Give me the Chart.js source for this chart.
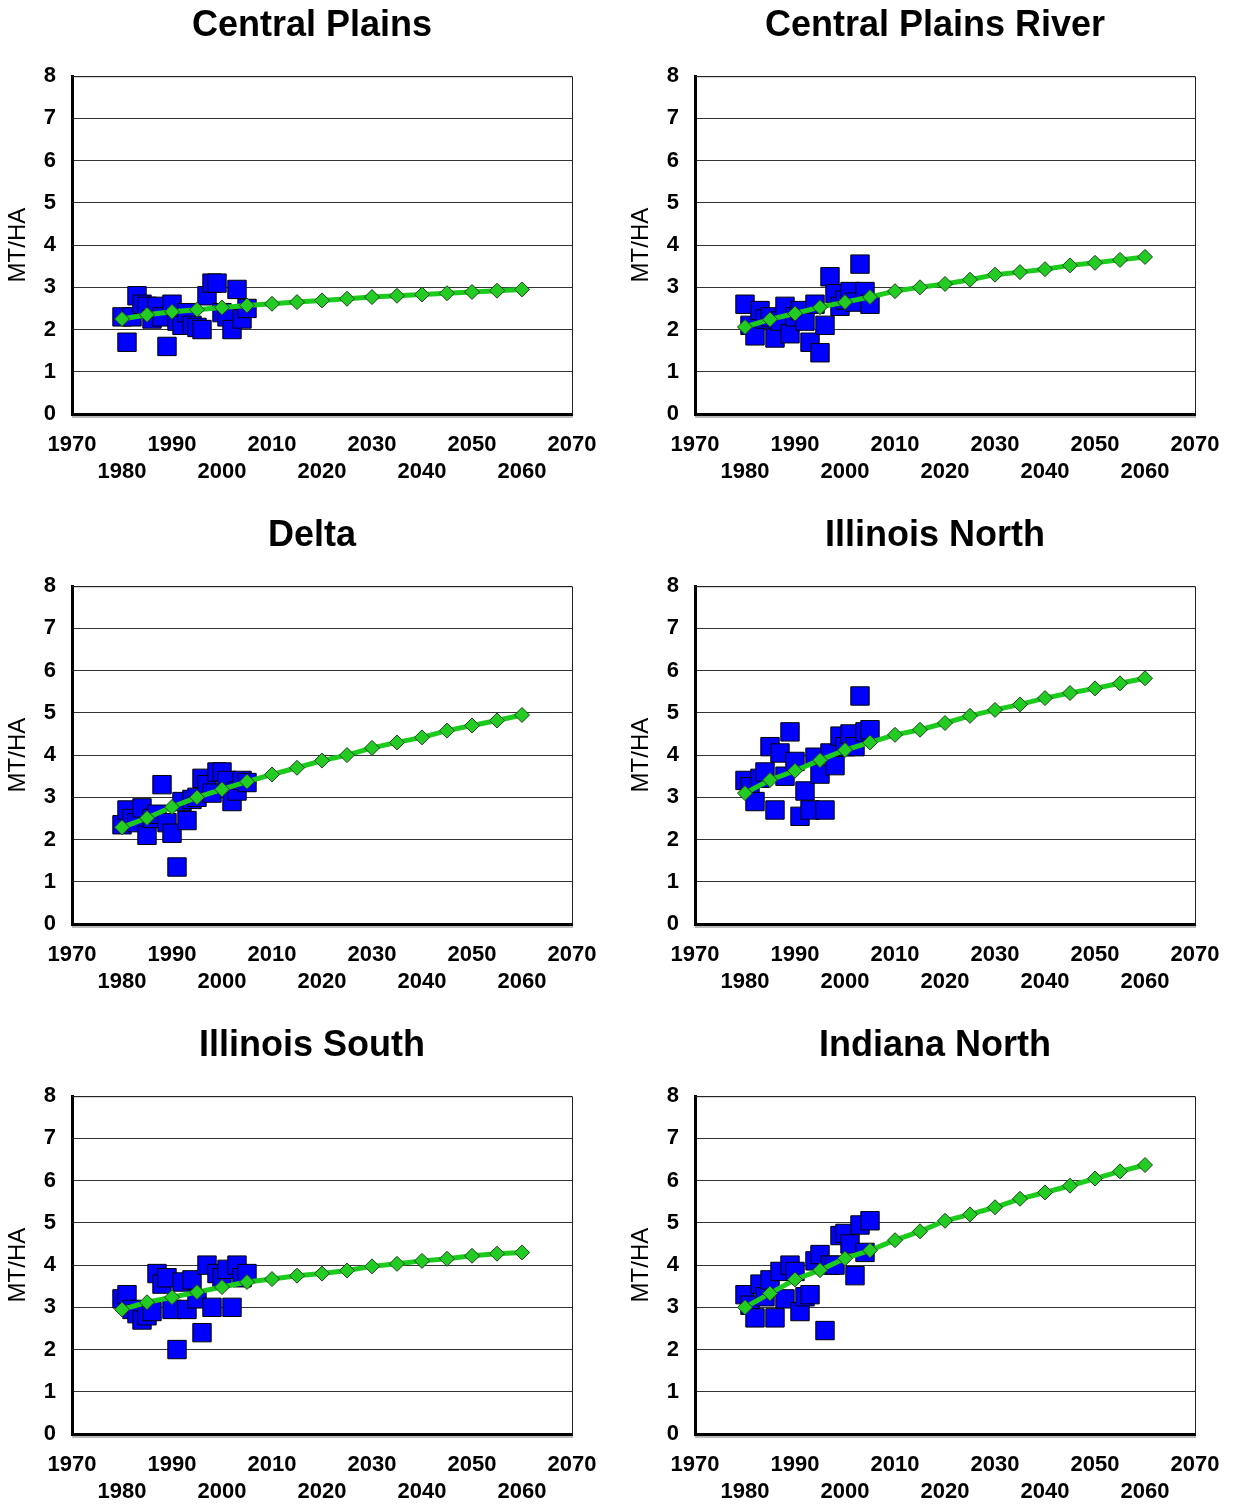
<!DOCTYPE html>
<html>
<head>
<meta charset="utf-8">
<script src="https://cdn.jsdelivr.net/npm/chart.js@4.4.0/dist/chart.umd.min.js"></script>
<style>
  body { margin: 0; background: #fff; overflow: hidden; width: 1234px; height: 1506px; position: relative; }
  .panel { position: absolute; width: 624px; height: 510px; }
</style>
</head>
<body>
<div class="panel" style="left:0;top:0"><canvas id="c0"></canvas></div>
<div class="panel" style="left:623px;top:0"><canvas id="c1"></canvas></div>
<div class="panel" style="left:0;top:510px"><canvas id="c2"></canvas></div>
<div class="panel" style="left:623px;top:510px"><canvas id="c3"></canvas></div>
<div class="panel" style="left:0;top:1020px"><canvas id="c4"></canvas></div>
<div class="panel" style="left:623px;top:1020px"><canvas id="c5"></canvas></div>
<script>
// years of observed yields and of the trend projection
const obsYears = [1980, 1981, 1982, 1983, 1984, 1985, 1986, 1987, 1988, 1989, 1990, 1991, 1992,
  1993, 1994, 1995, 1996, 1997, 1998, 1999, 2000, 2001, 2002, 2003, 2004, 2005];
const trendYears = [1980, 1985, 1990, 1995, 2000, 2005, 2010, 2015, 2020, 2025, 2030,
  2035, 2040, 2045, 2050, 2055, 2060];

const regions = ["Central Plains", "Central Plains River", "Delta", "Illinois North", "Illinois South", "Indiana North"];

// MT/HA, observed
const cpObs = [2.3, 1.7, 2.3, 2.8, 2.6, 2.55, 2.25, 2.55, 2.3, 1.6, 2.6, 2.2, 2.1, 2.4, 2.1, 2.05, 2.0,
  2.8, 3.1, 3.1, 2.4, 2.3, 2.0, 2.95, 2.25, 2.5];
const cprObs = [2.6, 2.1, 1.85, 2.45, 2.25, 2.3, 1.8, 2.2, 2.55, 1.9, 2.3, 2.45, 2.2, 1.7, 2.6, 1.45,
  2.1, 3.25, 2.85, 2.55, 2.7, 2.9, 2.65, 3.55, 2.9, 2.6];
const deltaObs = [2.35, 2.7, 2.5, 2.4, 2.75, 2.1, 2.5, 2.6, 3.3, 2.4, 2.15, 1.35, 2.9, 2.45, 2.95, 3.0,
  3.45, 3.3, 3.1, 3.6, 3.6, 3.4, 2.9, 3.15, 3.4, 3.35];
const ilnObs = [3.4, 3.25, 2.9, 3.45, 3.6, 4.2, 2.7, 4.05, 3.5, 4.55, 3.85, 2.55, 3.15, 2.7, 3.95, 3.55,
  2.7, 4.05, 3.75, 4.45, 4.2, 4.5, 4.2, 5.4, 4.55, 4.6];
const ilsObs = [3.2, 3.3, 2.95, 2.85, 2.7, 2.8, 2.9, 3.8, 3.55, 3.7, 2.95, 2.0, 3.6, 2.95, 3.65, 3.2,
  2.4, 4.0, 3.0, 3.8, 3.7, 3.9, 3.0, 4.0, 3.7, 3.8];
const innObs = [3.3, 3.05, 2.75, 3.55, 3.25, 3.65, 2.75, 3.85, 3.2, 4.0, 3.85, 2.9, 3.25, 3.3, 4.1, 4.25,
  2.45, 4.0, 4.0, 4.7, 4.75, 4.5, 3.75, 4.95, 4.3, 5.05];

// MT/HA, trend
const cpTrend = [2.25, 2.35, 2.42, 2.47, 2.52, 2.57, 2.61, 2.65, 2.69, 2.73, 2.77, 2.8, 2.83, 2.86, 2.89, 2.92, 2.95];
const cprTrend = [2.06, 2.24, 2.38, 2.53, 2.65, 2.77, 2.91, 3.0, 3.08, 3.18, 3.3, 3.36, 3.43, 3.52, 3.58, 3.65, 3.72];
const deltaTrend = [2.29, 2.51, 2.77, 3.0, 3.19, 3.37, 3.54, 3.7, 3.87, 4.0, 4.17, 4.3, 4.42, 4.58, 4.7, 4.82, 4.95];
const ilnTrend = [3.1, 3.41, 3.63, 3.88, 4.12, 4.3, 4.48, 4.6, 4.76, 4.93, 5.07, 5.2, 5.35, 5.47, 5.58, 5.7, 5.82];
const ilsTrend = [2.95, 3.12, 3.24, 3.36, 3.48, 3.6, 3.67, 3.75, 3.8, 3.87, 3.97, 4.03, 4.1, 4.15, 4.22, 4.27, 4.3];
const innTrend = [3.0, 3.33, 3.66, 3.88, 4.16, 4.35, 4.59, 4.8, 5.05, 5.2, 5.37, 5.57, 5.72, 5.88, 6.05, 6.22, 6.37];

const obsSets = [cpObs, cprObs, deltaObs, ilnObs, ilsObs, innObs];
const trendSets = [cpTrend, cprTrend, deltaTrend, ilnTrend, ilsTrend, innTrend];

function toPoints(xs, ys) {
  return xs.map((x, i) => ({ x: x, y: ys[i] }));
}

// thin frame on top/right and grey shadow under the x axis
const framePlugin = {
  id: "frame",
  afterDraw(chart) {
    const a = chart.chartArea;
    const c = chart.ctx;
    c.save();
    c.strokeStyle = "#222";
    c.lineWidth = 1;
    c.beginPath();
    c.moveTo(a.left, a.top + 0.5);
    c.lineTo(a.right + 0.5, a.top + 0.5);
    c.lineTo(a.right + 0.5, a.bottom);
    c.stroke();
    c.strokeStyle = "#bbb";
    c.lineWidth = 2;
    c.beginPath();
    c.moveTo(a.left, a.bottom + 3);
    c.lineTo(a.right + 1, a.bottom + 3);
    c.stroke();
    c.restore();
  },
};

const tickFont = { family: "'Liberation Sans', Arial, sans-serif", size: 22, weight: "bold", lineHeight: 1.23 };

function makeChart(idx) {
  const ctx = document.getElementById("c" + idx).getContext("2d");
  return new Chart(ctx, {
    type: "scatter",
    data: {
      datasets: [
        {
          label: "Trend",
          data: toPoints(trendYears, trendSets[idx]),
          showLine: true,
          borderColor: "#1ccc1c",
          borderWidth: 5,
          backgroundColor: "#22cc22",
          pointStyle: "rectRot",
          pointRadius: 7.5,
          pointBorderColor: "#1f3f1f",
          pointBorderWidth: 1,
        },
        {
          label: "Observed",
          data: toPoints(obsYears, obsSets[idx]),
          backgroundColor: "#0000ff",
          borderColor: "#000",
          borderWidth: 1,
          pointStyle: "rect",
          pointRadius: 13,
        },
      ],
    },
    options: {
      animation: false,
      responsive: true,
      maintainAspectRatio: false,
      layout: { padding: 0 },
      plugins: {
        legend: { display: false },
        tooltip: { enabled: false },
        title: {
          display: true,
          text: regions[idx],
          color: "#000",
          font: { family: "'Liberation Sans', Arial, sans-serif", size: 36, weight: "bold", lineHeight: 1.2 },
          padding: { top: 4, bottom: 29 },
        },
      },
      scales: {
        x: {
          type: "linear",
          min: 1970,
          max: 2070,
          afterFit(scale) { scale.height = 96; },
          ticks: {
            stepSize: 10,
            color: "#000",
            font: tickFont,
            padding: 17,
            maxRotation: 0,
            autoSkip: false,
            callback(value, i) {
              return i % 2 === 0 ? String(value) : ["", String(value)];
            },
          },
          grid: { display: false, drawTicks: false },
          border: { display: true, color: "#000", width: 3 },
        },
        y: {
          min: 0,
          max: 8,
          afterFit(scale) { scale.width = 72; },
          ticks: { stepSize: 1, color: "#000", font: tickFont, padding: 16 },
          grid: { color: "#333", lineWidth: 1, drawTicks: false },
          border: { display: true, color: "#000", width: 3 },
          title: {
            display: true,
            text: "MT/HA",
            color: "#000",
            font: { family: "'Liberation Sans', Arial, sans-serif", size: 24, lineHeight: 1.2 },
            padding: { top: 4, bottom: 0 },
          },
        },
        // empty right-hand margin so the title sits where the original has it
        yRight: {
          position: "right",
          afterFit(scale) { scale.width = 52; },
          ticks: { display: false },
          grid: { display: false, drawTicks: false },
          border: { display: false },
        },
      },
    },
    plugins: [framePlugin],
  });
}

for (let i = 0; i < 6; i++) {
  makeChart(i);
}
</script>
</body>
</html>
